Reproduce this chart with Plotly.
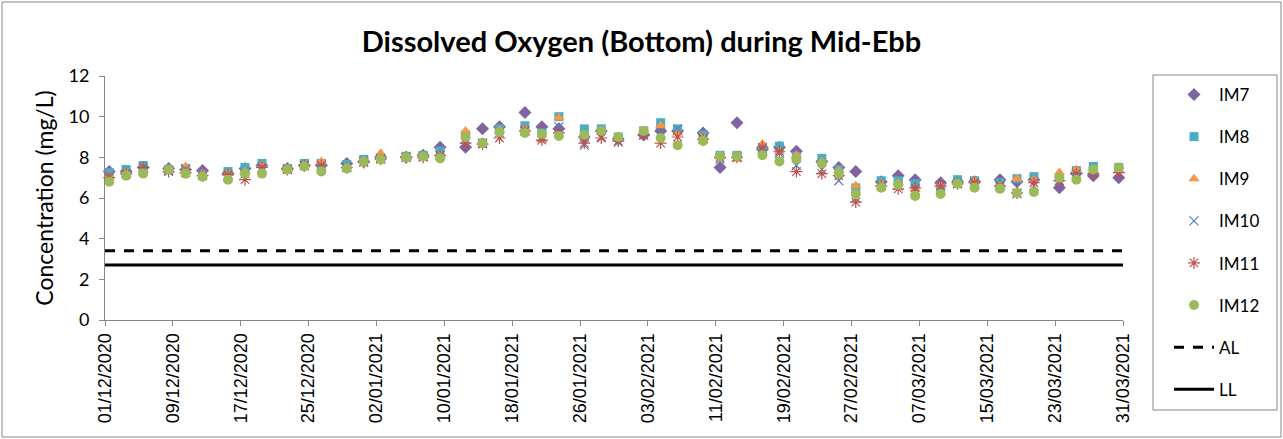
import pandas as pd
import plotly.graph_objects as go

sample_dates = ["2020-12-01", "2020-12-03", "2020-12-05", "2020-12-08", "2020-12-10", "2020-12-12",
                "2020-12-15", "2020-12-17", "2020-12-19", "2020-12-22", "2020-12-24", "2020-12-26",
                "2020-12-29", "2020-12-31", "2021-01-02", "2021-01-05", "2021-01-07", "2021-01-09",
                "2021-01-12", "2021-01-14", "2021-01-16", "2021-01-19", "2021-01-21", "2021-01-23",
                "2021-01-26", "2021-01-28", "2021-01-30", "2021-02-02", "2021-02-04", "2021-02-06",
                "2021-02-09", "2021-02-11", "2021-02-13", "2021-02-16", "2021-02-18", "2021-02-20",
                "2021-02-23", "2021-02-25", "2021-02-27", "2021-03-02", "2021-03-04", "2021-03-06",
                "2021-03-09", "2021-03-11", "2021-03-13", "2021-03-16", "2021-03-18", "2021-03-20",
                "2021-03-23", "2021-03-25", "2021-03-27", "2021-03-30"]

im7 = [7.3, 7.3, 7.5, 7.45, 7.4, 7.35, 7.2, 7.45, 7.6, 7.45, 7.6, 7.6, 7.7,
       7.8, 8.0, 8.0, 8.1, 8.5, 8.5, 9.4, 9.5, 10.2, 9.5, 9.4, 9.0, 9.3,
       8.9, 9.1, 9.3, 9.3, 9.2, 7.5, 9.7, 8.4, 8.5, 8.3, 7.8, 7.5, 7.3, 6.8,
       7.1, 6.9, 6.75, 6.8, 6.8, 6.9, 6.8, 6.9, 6.5, 7.2, 7.1, 7.0]
im8 = [7.25, 7.4, 7.6, 7.4, 7.45, 7.15, 7.3, 7.5, 7.7, 7.45, 7.7, 7.7, 7.65,
       7.9, 7.95, 8.05, 8.1, 8.3, 9.1, 8.7, 9.4, 9.55, 9.2, 10.0, 9.4, 9.4,
       9.0, 9.3, 9.7, 9.4, 9.1, 8.1, 8.1, 8.4, 8.55, 8.05, 7.95, 7.4, 6.5, 6.85,
       6.85, 6.7, 6.5, 6.9, 6.85, 6.75, 6.95, 7.05, 7.0, 7.35, 7.55, 7.5]
im9 = [7.1, 7.25, 7.4, 7.35, 7.55, 7.2, 7.2, 7.3, 7.6, 7.4, 7.65, 7.8, 7.55,
       7.85, 8.2, 8.0, 8.05, 8.1, 9.3, 8.75, 9.35, 9.4, 8.85, 9.95, 9.1, 9.3,
       8.95, 9.3, 9.55, 9.2, 9.0, 8.05, 7.9, 8.65, 8.3, 8.1, 7.8, 7.35, 6.6, 6.7,
       6.75, 6.45, 6.6, 6.75, 6.85, 6.6, 6.95, 6.9, 7.25, 7.4, 7.35, 7.35]
im10 = [7.1, 7.2, 7.35, 7.35, 7.4, 7.15, 7.1, 7.2, 7.4, 7.4, 7.6, 7.6, 7.5,
        7.8, 7.95, 8.0, 8.05, 8.1, 8.9, 8.7, 9.2, 9.3, 9.0, 9.5, 8.6, 9.0,
        8.75, 9.1, 9.2, 9.4, 8.9, 7.9, 8.0, 8.4, 8.2, 7.6, 7.4, 6.85, 6.0, 6.6,
        6.6, 6.4, 6.4, 6.7, 6.7, 6.6, 6.2, 6.6, 6.85, 7.2, 7.3, 7.25]
im11 = [7.0, 7.2, 7.5, 7.3, 7.25, 7.1, 7.15, 6.9, 7.5, 7.4, 7.6, 7.6, 7.5,
        7.75, 7.9, 8.0, 8.0, 8.1, 8.7, 8.65, 8.95, 9.3, 8.85, 9.2, 8.7, 8.95,
        8.8, 9.1, 8.7, 9.0, 8.9, 8.0, 8.0, 8.5, 8.3, 7.3, 7.2, 7.1, 5.8, 6.6,
        6.45, 6.5, 6.6, 6.7, 6.75, 6.6, 6.25, 6.75, 6.85, 7.2, 7.2, 7.25]
im12 = [6.8, 7.1, 7.2, 7.4, 7.2, 7.05, 6.9, 7.2, 7.2, 7.4, 7.55, 7.3, 7.45,
        7.8, 7.9, 8.0, 8.05, 7.95, 9.0, 8.7, 9.25, 9.2, 9.15, 9.05, 9.1, 9.3,
        9.0, 9.3, 8.95, 8.6, 8.8, 8.05, 8.05, 8.1, 7.8, 7.9, 7.7, 7.2, 6.2, 6.5,
        6.65, 6.1, 6.2, 6.7, 6.5, 6.45, 6.25, 6.3, 7.0, 6.9, 7.4, 7.5]

action_level = 3.4
limit_level = 2.7
axis_start = "2020-12-01"
axis_end = "2021-03-31"
tick_step_days = 8

# points sit in the middle of their day (Excel date-axis look)
x_pts = pd.to_datetime(sample_dates) + pd.Timedelta(hours=12)
tick_dates = pd.date_range(axis_start, axis_end, freq=f"{tick_step_days}D")
tick_text = [d.strftime("%d/%m/%Y") for d in tick_dates]

series = [
    ("IM7", im7, dict(symbol="diamond", size=10, color="#8064A2")),
    ("IM8", im8, dict(symbol="square", size=9, color="#4BACC6")),
    ("IM9", im9, dict(symbol="triangle-up", size=10, color="#F79646")),
    ("IM10", im10, dict(symbol="x-thin-open", size=9, color="#4F81BD", line=dict(width=1.2, color="#4F81BD"))),
    ("IM11", im11, dict(symbol="asterisk-open", size=10, color="#C0504D", line=dict(width=1.2, color="#C0504D"))),
    ("IM12", im12, dict(symbol="circle", size=10, color="#9BBB59")),
]

fig = go.Figure()
for name, vals, mk in series:
    fig.add_trace(go.Scatter(x=x_pts, y=vals, mode="markers", name=name, marker=mk,
                             legendgroup=name, cliponaxis=False))

fig.add_trace(go.Scatter(x=[axis_start, axis_end], y=[action_level, action_level], mode="lines",
                         name="AL", legendgroup="AL",
                         line=dict(color="black", width=3, dash="10px,9px")))
fig.add_trace(go.Scatter(x=[axis_start, axis_end], y=[limit_level, limit_level], mode="lines",
                         name="LL", legendgroup="LL",
                         line=dict(color="black", width=3)))

L, R, T, B = 105, 160, 76, 119
W, H = 1283, 439
pw, ph = W - L - R, H - T - B

def px_to_paper_x(px):
    return (px - L) / pw

def px_to_paper_y(py):
    return (H - B - py) / ph

fig.update_layout(
    width=W, height=H,
    margin=dict(l=L, r=R, t=T, b=B, autoexpand=False),
    paper_bgcolor="white", plot_bgcolor="white",
    font=dict(family="Lato, Liberation Sans, sans-serif", color="black"),
    title=dict(text="<b>Dissolved Oxygen (Bottom) during Mid-Ebb</b>", x=0.5, xanchor="center",
               xref="container", y=1 - 42 / H, yanchor="middle",
               font=dict(size=29, family="Lato, sans-serif", color="black")),
    showlegend=True,
    legend=dict(x=px_to_paper_x(1169), y=px_to_paper_y(77), xanchor="left", yanchor="top",
                borderwidth=0, bgcolor="rgba(0,0,0,0)", maxheight=400,
                font=dict(size=17, family="Lato, sans-serif"),
                tracegroupgap=17, itemwidth=40),
    shapes=[
        dict(type="rect", xref="paper", yref="paper",
             x0=px_to_paper_x(2), x1=px_to_paper_x(1281),
             y0=px_to_paper_y(437), y1=px_to_paper_y(2),
             line=dict(color="#868686", width=1), fillcolor="rgba(0,0,0,0)", layer="below"),
        dict(type="rect", xref="paper", yref="paper",
             x0=px_to_paper_x(1153), x1=px_to_paper_x(1277),
             y0=px_to_paper_y(410), y1=px_to_paper_y(75),
             line=dict(color="#868686", width=1), fillcolor="rgba(0,0,0,0)", layer="below"),
    ],
)

fig.update_xaxes(type="date", range=[axis_start, axis_end], tickmode="array",
                 tickvals=tick_dates, ticktext=tick_text, tickangle=-90,
                 ticks="outside", ticklen=5, tickcolor="#868686", automargin=False,
                 showline=True, linecolor="#868686", linewidth=1, showgrid=False, zeroline=False,
                 tickfont=dict(size=18, family="Liberation Sans, Arial, sans-serif"))
fig.update_yaxes(range=[0, 12], dtick=2, ticks="outside", ticklen=5, tickcolor="#868686",
                 showline=True, linecolor="#868686", linewidth=1, showgrid=False, zeroline=False,
                 automargin=False, ticklabelstandoff=6,
                 tickfont=dict(size=18, family="Lato, sans-serif"),
                 title=dict(text="Concentration (mg/L)", font=dict(size=23, family="Lato, sans-serif"),
                            standoff=8))

fig.write_html("out.html", config={"displayModeBar": False},
               post_script="document.body.style.margin='0px';document.body.style.overflow='hidden';")
